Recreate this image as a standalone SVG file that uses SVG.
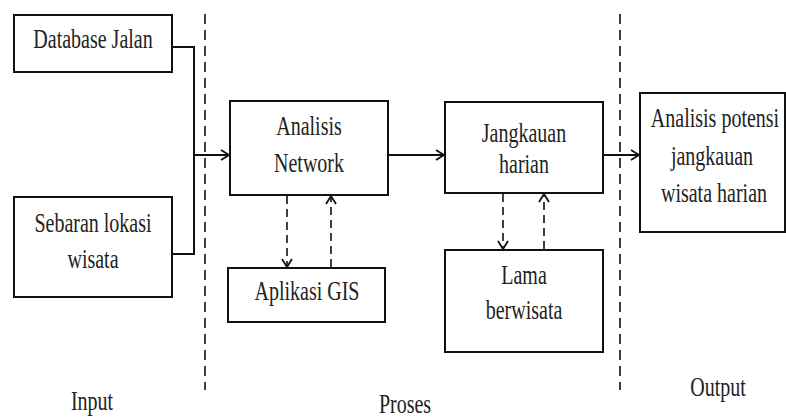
<svg xmlns="http://www.w3.org/2000/svg" width="786" height="420" viewBox="0 0 786 420">
<style>
.box{fill:#fff;stroke:#111;stroke-width:2}
.t{font-family:"Liberation Serif","Times New Roman",serif;font-size:20px;fill:#222;text-anchor:middle}
.ln{fill:none;stroke:#111;stroke-width:2}
.dl{fill:none;stroke:#111;stroke-width:1.6;stroke-dasharray:8 5}
.sep{fill:none;stroke:#111;stroke-width:1.6;stroke-dasharray:10 6}
</style>
<defs>
<marker id="ah" markerWidth="12" markerHeight="12" refX="10" refY="6" orient="auto" markerUnits="userSpaceOnUse">
<path d="M2,1 L10,6 L2,11" fill="none" stroke="#111" stroke-width="1.8"/>
</marker>
</defs>
<rect width="786" height="420" fill="#fff"/>
<g id="separators">
<line class="sep" x1="205" y1="14" x2="205" y2="390"/>
<line class="sep" x1="620" y1="14" x2="620" y2="390"/>
</g>
<g id="connectors">
<polyline class="ln" points="172,47 194,47 194,254 172,254"/>
<line class="ln" x1="194" y1="155" x2="229" y2="155" marker-end="url(#ah)"/>
<line class="ln" x1="388" y1="155" x2="444" y2="155" marker-end="url(#ah)"/>
<line class="ln" x1="603" y1="155" x2="639" y2="155" marker-end="url(#ah)"/>
<line class="dl" x1="287" y1="196" x2="287" y2="267" marker-end="url(#ah)"/>
<line class="dl" x1="331" y1="267" x2="331" y2="196" marker-end="url(#ah)"/>
<line class="dl" x1="503" y1="194" x2="503" y2="249" marker-end="url(#ah)"/>
<line class="dl" x1="544" y1="249" x2="544" y2="194" marker-end="url(#ah)"/>
</g>
<g id="database-jalan">
<rect class="box" x="14" y="15" width="158" height="57"/>
<text class="t" transform="translate(93,48) scale(1,1.4)">Database Jalan</text>
</g>
<g id="sebaran-lokasi">
<rect class="box" x="14" y="197" width="158" height="100"/>
<text class="t" transform="translate(93,232) scale(1,1.4)">Sebaran lokasi</text>
<text class="t" transform="translate(93,268) scale(1,1.4)">wisata</text>
</g>
<g id="analisis-network">
<rect class="box" x="230" y="101" width="158" height="94"/>
<text class="t" transform="translate(309,135) scale(1,1.4)">Analisis</text>
<text class="t" transform="translate(309,172) scale(1,1.4)">Network</text>
</g>
<g id="aplikasi-gis">
<rect class="box" x="228" y="268" width="157" height="54"/>
<text class="t" transform="translate(307,300) scale(1,1.4)">Aplikasi GIS</text>
</g>
<g id="jangkauan-harian">
<rect class="box" x="445" y="102" width="158" height="91"/>
<text class="t" transform="translate(524,142) scale(1,1.4)">Jangkauan</text>
<text class="t" transform="translate(524,173) scale(1,1.4)">harian</text>
</g>
<g id="lama-berwisata">
<rect class="box" x="445" y="250" width="158" height="102"/>
<text class="t" transform="translate(524,284) scale(1,1.4)">Lama</text>
<text class="t" transform="translate(524,319) scale(1,1.4)">berwisata</text>
</g>
<g id="output-box">
<rect class="box" x="640" y="93" width="145" height="139"/>
<text class="t" transform="translate(715,127) scale(1,1.4)">Analisis potensi</text>
<text class="t" transform="translate(712,165) scale(1,1.4)">jangkauan</text>
<text class="t" transform="translate(714,202) scale(1,1.4)">wisata harian</text>
</g>
<g id="labels">
<text class="t" transform="translate(92,410) scale(1,1.4)">Input</text>
<text class="t" transform="translate(405,413) scale(1,1.4)">Proses</text>
<text class="t" transform="translate(718,396) scale(1,1.4)">Output</text>
</g>
</svg>
